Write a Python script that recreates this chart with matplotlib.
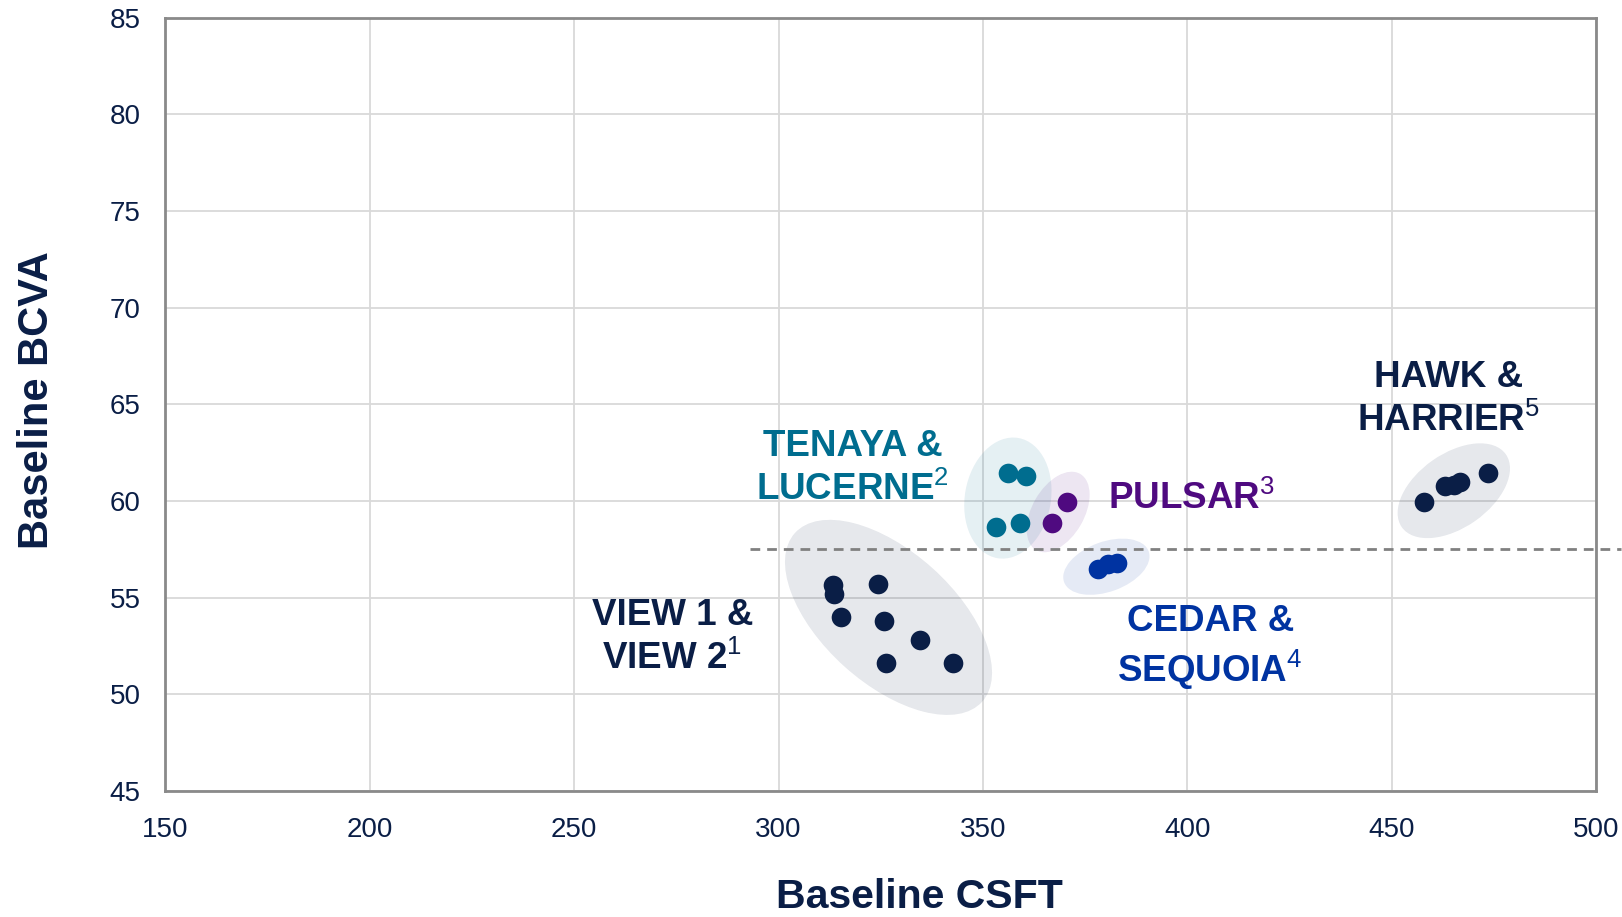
import matplotlib
matplotlib.use("Agg")
import matplotlib.pyplot as plt
import matplotlib.transforms as mtransforms
from matplotlib.patches import Circle

plt.rcParams["font.family"] = ["Liberation Sans", "DejaVu Sans"]
plt.rcParams["mathtext.fontset"] = "custom"
plt.rcParams["mathtext.rm"] = "Liberation Sans"
plt.rcParams["mathtext.default"] = "rm"

# baseline CSFT (x) and BCVA (y) per trial arm
view_csft = [313.2, 313.5, 315.3, 324.4, 325.9, 334.5, 326.4, 342.6]
view_bcva = [55.64, 55.2, 54.0, 55.7, 53.8, 52.8, 51.6, 51.6]

tenaya_csft = [356.1, 360.5, 353.1, 359.0]
tenaya_bcva = [61.44, 61.27, 58.68, 58.87]

pulsar_csft = [370.5, 367.0]
pulsar_bcva = [59.97, 58.87]

cedar_csft = [378.2, 380.7, 382.7]
cedar_bcva = [56.48, 56.75, 56.79]

hawk_csft = [457.9, 463.1, 465.2, 466.7, 473.6]
hawk_bcva = [59.97, 60.79, 60.83, 60.97, 61.47]

x_ticks = [150, 200, 250, 300, 350, 400, 450, 500]
y_ticks = [45, 50, 55, 60, 65, 70, 75, 80, 85]

threshold_bcva = 57.5
threshold_span = (293, 506)

NAVY = "#0a1e46"
TEAL = "#006d8f"
PURPLE = "#4f0a80"
BLUE = "#0033a1"
GRID = "#d9d9d9"
SPINE = "#8a8a8a"

fig = plt.figure(figsize=(16.22, 9.17), dpi=100)
ax = fig.add_axes([0.102, 0.1374, 0.882, 0.8434])
ax.set_xlim(150, 500)
ax.set_ylim(45, 85)
ax.set_xticks(x_ticks)
ax.set_yticks(y_ticks)
ax.grid(True, color=GRID, linewidth=1.3, zorder=0)
ax.set_axisbelow(True)
ax.tick_params(length=0, labelsize=20, labelcolor=NAVY)
ax.tick_params(axis="x", pad=19)
ax.tick_params(axis="y", pad=18)
for sp in ax.spines.values():
    sp.set_color(SPINE)
    sp.set_linewidth(2)


def halo(cx, cy, w, h, angle, color, alpha=0.1):
    # ellipse sized in screen pixels, centred on a data point
    tr = (mtransforms.Affine2D().scale(w / 2, h / 2).rotate_deg(angle)
          + mtransforms.ScaledTranslation(cx, cy, ax.transData))
    ax.add_patch(Circle((0, 0), 1, transform=tr, facecolor=color,
                        edgecolor="none", alpha=alpha, zorder=1))


halo(326.9, 53.98, 252, 132, -42, NAVY)
halo(356.1, 60.15, 122, 86, 80, TEAL)
halo(368.4, 59.43, 88, 52, 60, PURPLE)
halo(380.2, 56.6, 90, 50, 20, BLUE)
halo(465.2, 60.53, 127, 74, 35, NAVY)

ax.plot(threshold_span, [threshold_bcva, threshold_bcva], color="#808080",
        linestyle=(0, (3.5, 2.5)), linewidth=2, clip_on=False, zorder=2)

dot = 200
ax.scatter(view_csft, view_bcva, s=dot, color=NAVY, zorder=3, linewidths=0)
ax.scatter(tenaya_csft, tenaya_bcva, s=dot, color=TEAL, zorder=3, linewidths=0)
ax.scatter(pulsar_csft, pulsar_bcva, s=dot, color=PURPLE, zorder=3, linewidths=0)
ax.scatter(cedar_csft, cedar_bcva, s=dot, color=BLUE, zorder=3, linewidths=0)
ax.scatter(hawk_csft, hawk_bcva, s=dot, color=NAVY, zorder=3, linewidths=0)

lab = dict(fontsize=26.5, fontweight="bold", linespacing=1.28, zorder=4)
ax.text(274.0, 52.93, "VIEW 1 &\nVIEW 2$^{1}$", color=NAVY,
        ha="center", va="center", **lab)
ax.text(318.1, 61.7, "TENAYA &\nLUCERNE$^{2}$", color=TEAL,
        ha="center", va="center", **lab)
ax.text(380.6, 60.1, "PULSAR$^{3}$", color=PURPLE,
        ha="left", va="center", **lab)
ax.text(405.6, 52.4, "CEDAR &\nSEQUOIA$^{4}$", color=BLUE,
        ha="center", va="center", **lab)
ax.text(463.8, 65.23, "HAWK &\nHARRIER$^{5}$", color=NAVY,
        ha="center", va="center", **lab)

ax.set_xlabel("Baseline CSFT", fontsize=29.5, fontweight="bold", color=NAVY)
ax.xaxis.set_label_coords(0.527, -0.113)
ax.set_ylabel("Baseline BCVA", fontsize=30, fontweight="bold", color=NAVY)
ax.yaxis.set_label_coords(-0.09, 0.505)
ax.yaxis.label.set_va("center")

fig.savefig("out.png", dpi=100)
